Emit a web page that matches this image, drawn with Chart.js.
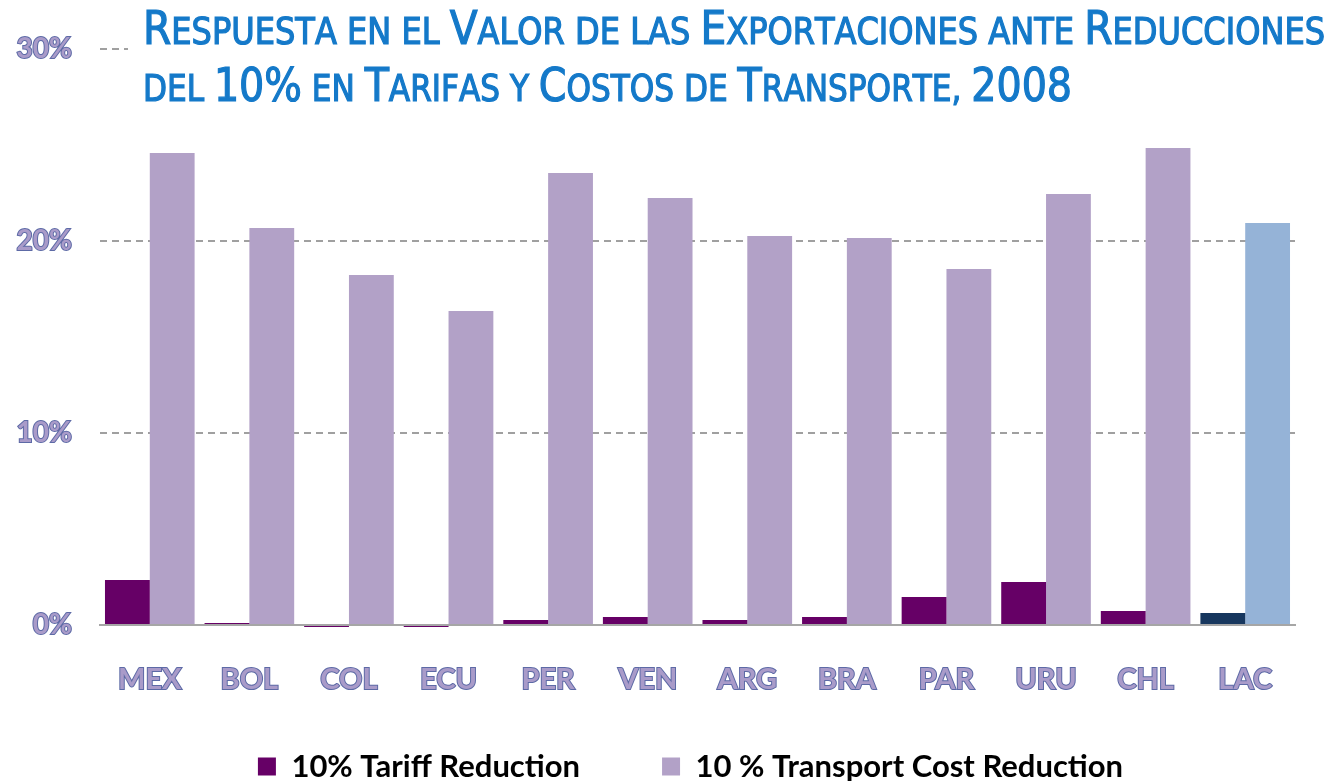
<!DOCTYPE html>
<html>
<head>
<meta charset="utf-8">
<script src="https://cdn.jsdelivr.net/npm/chart.js@4.4.0/dist/chart.umd.min.js"></script>
<style>
  html, body { margin: 0; padding: 0; background: #fff; }
</style>
</head>
<body>
<canvas id="graph" width="1331" height="781"></canvas>
<script>
// data (percent change in export value)
var countries = ['MEX', 'BOL', 'COL', 'ECU', 'PER', 'VEN', 'ARG', 'BRA', 'PAR', 'URU', 'CHL', 'LAC'];
var tariffCut = [2.34, 0.1, -0.1, -0.1, 0.26, 0.42, 0.26, 0.42, 1.46, 2.24, 0.73, 0.63];
var transportCut = [24.58, 20.68, 18.23, 16.35, 23.54, 22.24, 20.26, 20.16, 18.54, 22.45, 24.84, 20.94];
var yTicks = [0, 10, 20, 30];
var seriesNames = ['10% Tariff Reduction', '10 % Transport Cost Reduction'];
var titleLines = [
  'Respuesta en el Valor de las Exportaciones ante Reducciones',
  'del 10% en Tarifas y Costos de Transporte, 2008'
];

var labelColor = '#a99bc9';
var labelStroke = '#5d6aa6';

function barColors(normal, last) {
  return countries.map(function (c, i) { return i === countries.length - 1 ? last : normal; });
}

// title in small caps, drawn over the top of the plot like in the slide
var titleFont = "'Liberation Sans Narrow', 'DejaVu Sans Condensed', sans-serif";
function isBig(ch) {
  return ch !== ch.toLowerCase() || /[0-9%]/.test(ch);
}
function capsWidth(ctx, text, big, small) {
  var w = 0;
  for (var i = 0; i < text.length; i++) {
    var ch = text[i];
    ctx.font = (isBig(ch) ? big : small) + 'px ' + titleFont;
    w += ctx.measureText(ch.toUpperCase()).width;
  }
  return w;
}
function drawCaps(ctx, text, x, y, big, small, sx) {
  ctx.save();
  ctx.translate(x, y);
  ctx.scale(sx, 1);
  var cx = 0;
  for (var i = 0; i < text.length; i++) {
    var ch = text[i].toUpperCase();
    ctx.font = (isBig(text[i]) ? big : small) + 'px ' + titleFont;
    ctx.strokeText(ch, cx, 0);
    ctx.fillText(ch, cx, 0);
    cx += ctx.measureText(ch).width;
  }
  ctx.restore();
}

var titlePlugin = {
  id: 'slideTitle',
  afterDraw: function (chart) {
    var ctx = chart.ctx;
    ctx.save();
    ctx.fillStyle = '#ffffff';
    ctx.fillRect(128, 0, chart.width - 128, 108);
    ctx.fillStyle = '#1479c9';
    ctx.strokeStyle = '#1479c9';
    ctx.lineWidth = 1.2;
    ctx.textBaseline = 'alphabetic';
    var big = 47, small = 37;
    var w1 = capsWidth(ctx, titleLines[0], big, small);
    var w2 = capsWidth(ctx, titleLines[1], big, small);
    drawCaps(ctx, titleLines[0], 143, 44, big, small, (1325 - 143) / w1);
    drawCaps(ctx, titleLines[1], 143, 101, big, small, (1072 - 143) / w2);
    ctx.restore();
  }
};

// legend: keep the wide gap between items but a short box, then place the row
var legendPlace = {
  id: 'legendPlace',
  afterInit: function (chart) {
    var lg = chart.legend;
    var fit = lg.fit;
    lg.fit = function () {
      fit.call(this);
      this.height = 70;
    };
  },
  afterLayout: function (chart) {
    var lg = chart.legend;
    lg.top = 669;
    lg.left += 43;
    lg.right += 43;
  }
};

var ctx = document.getElementById('graph');
var chart = new Chart(ctx, {
  type: 'bar',
  data: {
    labels: countries,
    datasets: [
      {
        label: seriesNames[0],
        data: tariffCut,
        backgroundColor: barColors('#660066', '#17375e'),
        categoryPercentage: 0.9,
        barPercentage: 1.0,
        clip: false
      },
      {
        label: seriesNames[1],
        data: transportCut,
        backgroundColor: barColors('#b2a1c7', '#95b3d7'),
        categoryPercentage: 0.9,
        barPercentage: 1.0,
        clip: false
      }
    ]
  },
  options: {
    responsive: false,
    animation: false,
    layout: { padding: { top: 49, right: 36, left: 0, bottom: 0 } },
    plugins: {
      tooltip: { enabled: false },
      legend: {
        position: 'bottom',
        labels: {
          boxWidth: 18,
          boxHeight: 18,
          padding: 82,
          color: labelColor,
          font: { family: 'Lato', weight: 'bold', size: 31 },
          generateLabels: function (chart) {
            return seriesNames.map(function (n, i) {
              return {
                text: n,
                fillStyle: i === 0 ? '#660066' : '#b2a1c7',
                strokeStyle: 'rgba(0,0,0,0)',
                lineWidth: 0,
                datasetIndex: i
              };
            });
          }
        }
      }
    },
    scales: {
      x: {
        grid: { display: false },
        border: { display: true, color: '#a6a6a6', width: 2 },
        ticks: {
          padding: 29,
          color: labelColor,
          textStrokeColor: labelStroke,
          textStrokeWidth: 2,
          font: { family: 'Lato', weight: 'bold', size: 29 }
        },
        afterFit: function (scale) {
          scale.height = 86;
          scale.paddingLeft = 0;
          scale.paddingRight = 0;
        }
      },
      y: {
        min: 0,
        max: 30,
        afterBuildTicks: function (scale) {
          scale.ticks = yTicks.map(function (v) { return { value: v }; });
        },
        grid: {
          drawTicks: false,
          lineWidth: 2,
          color: function (c) { return c.tick && c.tick.value === 0 ? 'rgba(0,0,0,0)' : '#a0a0a0'; }
        },
        border: { display: false, dash: [7, 5] },
        ticks: {
          padding: 28,
          color: labelColor,
          textStrokeColor: labelStroke,
          textStrokeWidth: 2,
          font: { family: 'Lato', weight: 'bold', size: 28 },
          callback: function (v) { return v + '%'; }
        },
        afterFit: function (scale) {
          scale.width = 100;
          scale.paddingTop = 0;
          scale.paddingBottom = 0;
        }
      }
    }
  },
  plugins: [titlePlugin, legendPlace]
});
</script>
</body>
</html>
